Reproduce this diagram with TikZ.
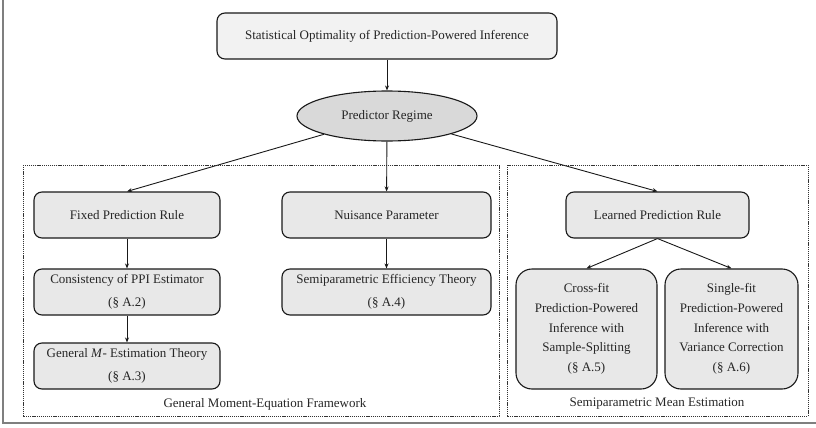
\documentclass[tikz,border=0pt]{standalone}
\usepackage{fontspec}
\setmainfont{Liberation Serif}
\usetikzlibrary{arrows.meta,shapes.geometric}
\definecolor{boxfill}{HTML}{E8E8E8}
\definecolor{topfill}{HTML}{F2F2F2}
\definecolor{ellfill}{HTML}{D9D9D9}
\definecolor{framegray}{HTML}{7F7F7F}
\begin{document}
\begin{tikzpicture}[x=1pt,y=-1pt,
  every node/.style={font=\fontsize{13}{23}\selectfont, text=black!85},
  rbox/.style={draw=black!90, line width=1.1pt, rounded corners=8pt, fill=boxfill, inner sep=0pt, align=center, minimum height=46pt},
  tallbox/.style={rbox, rounded corners=16pt, minimum height=120pt, font=\fontsize{13}{19.7}\selectfont},
  conn/.style={draw=black!90, line width=0.9pt, -{Stealth[length=5pt,width=4pt]}},
  group/.style={draw=black!80, line width=0.8pt, dash pattern=on 1.2pt off 0.9pt}
]
\useasboundingbox (0,0) rectangle (816,428);
% outer frame (left and bottom)
\draw[framegray, line width=1.8pt] (3,0) -- (3,423) -- (816,423);

% groups
\draw[group] (23,165) rectangle (499,416);
\draw[group] (507,165) rectangle (808,416);
\node (lblL) at (265,404) {General Moment-Equation Framework};
\node (lblR) at (657,404) {Semiparametric Mean Estimation};

% nodes
\node[rbox, fill=topfill, minimum width=340pt] (top) at (387,36) {Statistical Optimality of Prediction-Powered Inference};
\node[ellipse, draw=black!90, line width=1.1pt, fill=ellfill, minimum width=180pt, minimum height=50pt, inner sep=0pt] (ell) at (387,116) {Predictor Regime};

\node[rbox, minimum width=186pt] (fixed) at (127,215) {Fixed Prediction Rule};
\node[rbox, minimum width=209pt] (nuis) at (386.5,215) {Nuisance Parameter};
\node[rbox, minimum width=183pt] (learn) at (657.5,215) {Learned Prediction Rule};

\node[rbox, minimum width=186pt] (cons) at (127,292) {Consistency of PPI Estimator\\(§ A.2)};
\node[rbox, minimum width=209pt] (semi) at (386.5,292) {Semiparametric Efficiency Theory\\(§ A.4)};
\node[rbox, minimum width=186pt] (gen) at (127,366) {General \textit{M}- Estimation Theory\\(§ A.3)};

\node[tallbox, minimum width=141pt] (cross) at (586.5,329) {Cross-fit\\Prediction-Powered\\Inference with\\Sample-Splitting\\(§ A.5)};
\node[tallbox, minimum width=133pt] (single) at (731.5,329) {Single-fit\\Prediction-Powered\\Inference with\\Variance Correction\\(§ A.6)};

% connectors
\draw[conn] (top) -- (ell);
\draw[conn] (ell) -- (fixed.north);
\draw[conn] (ell) -- (nuis);
\draw[conn] (ell) -- (learn.north);
\draw[conn] (fixed) -- (cons);
\draw[conn] (cons) -- (gen);
\draw[conn] (nuis) -- (semi);
\draw[conn] (learn.south) -- (cross.north);
\draw[conn] (learn.south) -- (single.north);
\end{tikzpicture}
\end{document}
